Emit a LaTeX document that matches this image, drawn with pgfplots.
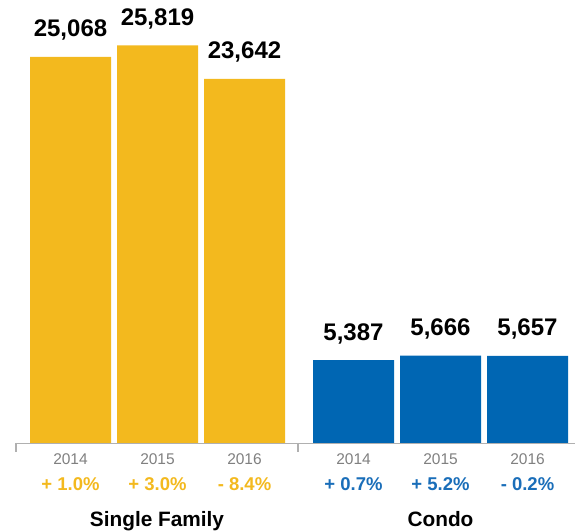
\documentclass[border=0pt]{standalone}
\usepackage{pgfplots}
\pgfplotsset{compat=1.18}
\usepackage{fontspec}
\setmainfont{Liberation Sans}
\definecolor{sfy}{RGB}{243,185,30}
\definecolor{cdb}{RGB}{0,102,179}
\definecolor{cdt}{RGB}{26,110,185}
\definecolor{axg}{RGB}{176,176,176}
\definecolor{yrg}{RGB}{128,128,128}
\begin{document}
\begin{tikzpicture}[
  yr/.style={anchor=base, yshift=-22pt, text=yrg, font=\fontsize{15.5}{18}\selectfont, inner sep=0pt},
  pc/.style={anchor=base, yshift=-47pt, text=#1, font=\fontsize{18.5}{22}\selectfont\bfseries, inner sep=0pt},
  grp/.style={anchor=base, yshift=-83pt, font=\fontsize{20.8}{24}\selectfont\bfseries, inner sep=0pt},
]
\path[use as bounding box] (0,0) rectangle (575pt,532pt);
\begin{axis}[
  at={(0pt,89pt)}, anchor=south west,
  scale only axis, width=575pt, height=415.8pt,
  xmin=0, xmax=575, ymin=0, ymax=27000,
  hide axis, clip=false,
  ybar, bar width=81, bar shift=0pt,
  nodes near coords, point meta=explicit symbolic,
  every node near coord/.append style={anchor=base, yshift=20pt, font=\fontsize{24}{28}\selectfont\bfseries, text=black, inner sep=0pt},
]
\addplot[fill=sfy, draw=none] table[meta=lab] {
x y lab
70.5 25068 25,068
157.5 25819 25,819
244.5 23642 23,642
};
\addplot[fill=cdb, draw=none] table[meta=lab] {
x y lab
353.5 5387 5,387
440.5 5666 5,666
527.5 5657 5,657
};
\draw[axg, line width=1.5pt] ([yshift=-0.75pt]axis cs:16,0) -- ([yshift=-0.75pt]axis cs:575,0);
\draw[axg, line width=1.5pt] (axis cs:16,0) -- ++(0,-9pt);
\draw[axg, line width=1.5pt] (axis cs:298,0) -- ++(0,-9pt);
\node[yr] at (axis cs:70.5,0) {2014};
\node[yr] at (axis cs:157.5,0) {2015};
\node[yr] at (axis cs:244.5,0) {2016};
\node[yr] at (axis cs:353.5,0) {2014};
\node[yr] at (axis cs:440.5,0) {2015};
\node[yr] at (axis cs:527.5,0) {2016};
\node[pc=sfy] at (axis cs:70.5,0) {+ 1.0\%};
\node[pc=sfy] at (axis cs:157.5,0) {+ 3.0\%};
\node[pc=sfy] at (axis cs:244.5,0) {- 8.4\%};
\node[pc=cdt] at (axis cs:353.5,0) {+ 0.7\%};
\node[pc=cdt] at (axis cs:440.5,0) {+ 5.2\%};
\node[pc=cdt] at (axis cs:527.5,0) {- 0.2\%};
\node[grp] at (axis cs:157,0) {Single Family};
\node[grp] at (axis cs:440.5,0) {Condo};
\end{axis}
\end{tikzpicture}
\end{document}
